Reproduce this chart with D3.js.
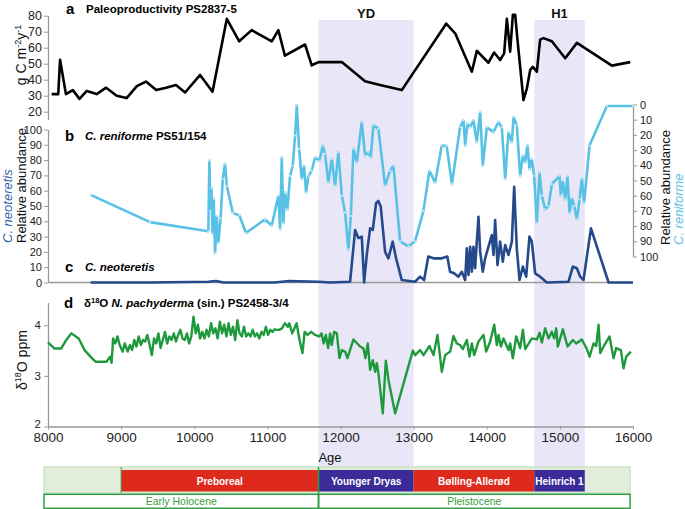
<!DOCTYPE html>
<html><head><meta charset="utf-8">
<script src="https://cdn.jsdelivr.net/npm/d3@7"></script>
<style>body{margin:0;background:#fff;} svg{font-family:"Liberation Sans",Arial,sans-serif;}</style>
</head><body><svg id="c" width="685" height="509"></svg>
<script>
// ---------- DATA ----------
const xTicks = [8000,9000,10000,11000,12000,13000,14000,15000,16000];
const bandLabels = ["YD","H1"];
const bandStart = [11700,14650];
const bandEnd = [13000,15340];

const paleoAge = [8050,8140,8165,8245,8340,8430,8530,8665,8795,8940,9075,9215,9340,9480,9615,9750,9875,10080,10250,10445,10615,10785,11060,11150,11240,11515,11607,11700,11860,12018,12336,12540,12838,13445,13568,13796,13865,14023,14101,14183,14238,14275,14320,14357,14389,14420,14502,14549,14594,14630,14685,14730,14776,14890,15073,15233,15711,15962];
const paleoVal = [31,31,52.5,31,33.5,28,33,31,35,30,28.5,36,38.8,33.5,35,36.7,32,43,32.5,78,64,71,64,71,55,62,49,51,51,51,39,36.7,33.5,75,69,45,58,50.6,57,52.3,56.5,78,57.5,80.5,80.5,65,27.3,34.6,46,48,45,65,66,64,53.4,63,48.8,51];
const paleoTicks = [20,30,40,50,60,70,80];

const renAge = [8584,9395,10193,10207,10220,10235,10250,10265,10285,10308,10330,10360,10390,10421,10445,10527,10617,10708,10968,11060,11150,11174,11197,11219,11242,11274,11310,11347,11379,11402,11434,11470,11502,11529,11561,11607,11652,11711,11758,11789,11834,11881,11926,11971,12018,12063,12108,12141,12177,12223,12291,12336,12382,12414,12450,12518,12610,12678,12724,12815,12929,13020,13134,13216,13294,13385,13453,13523,13636,13682,13705,13736,13773,13818,13864,13910,13946,14001,14092,14160,14206,14252,14297,14343,14366,14411,14457,14494,14525,14557,14584,14616,14648,14685,14721,14753,14799,14845,14890,14995,15013,15040,15073,15104,15132,15164,15196,15233,15269,15301,15332,15405,15643,16000];
const renVal = [59.5,77.4,83.4,37,70,55,85,62,97.8,73.5,91,75,49,39,53.5,71.3,73,84.5,75.6,79.6,60.2,82,34.8,78,58,69,47,40.3,20.4,0.5,29.2,49,40.3,58,47,43.6,34.8,37,27,32.5,51.4,35.8,53.5,31.4,60,71,95.5,73.5,29.2,38,11.5,33.6,31.4,34.8,13.7,16,53.5,43.6,40.3,90,93.3,90,70,43.6,51.4,27,27.4,52.4,14.8,10.4,27,12.6,15,10.4,24.8,4.9,40.3,15,18.2,11.5,15,49,18.2,24.8,8.2,13.7,47,33.6,38,27,42.5,35.8,47,78,44.7,60,69,66.8,52.4,47,60,50.2,62.4,47,71.3,61.3,66.8,75.6,62.4,48.7,64.6,27,1,1];

const neoAge = [8584,9395,10193,10300,10400,11100,11300,11700,11860,12131,12200,12245,12291,12323,12359,12405,12441,12487,12518,12550,12610,12655,12714,12760,12838,13020,13088,13143,13201,13270,13385,13461,13498,13553,13612,13659,13705,13727,13750,13773,13796,13818,13841,13864,13887,13910,13946,13978,14024,14069,14092,14115,14147,14183,14219,14252,14297,14343,14375,14411,14448,14494,14539,14584,14616,14662,14730,14822,15118,15178,15233,15278,15323,15425,15666,16000];
const neoVal = [0,0,0.5,1,0,0,1,0.5,0,0.5,34.3,29,30,0,18,35.4,34.3,51.8,53.3,49.6,20,15.8,26.7,15.8,1.6,0.5,3.8,1.6,17,15.8,15.8,17,7,6,3.8,7,1.6,22.3,5,23.4,7,23.4,9.3,26.7,43,20,7,15.8,23.4,31,18,40.8,11.4,26.7,13.6,24.5,18,26.7,62.6,22.3,1.6,10.4,3.8,30,26.7,6,3.8,0,0.5,10.4,9.3,3.8,1.6,35.4,0,0];
const abundTicks = [0,10,20,30,40,50,60,70,80,90,100];

const d18Age = [8000,8090,8180,8250,8320,8420,8500,8600,8650,8800,8850,8870,8890,8920,8950,8980,9020,9050,9090,9120,9150,9180,9210,9240,9270,9300,9330,9360,9390,9420,9450,9480,9510,9540,9570,9600,9630,9660,9690,9720,9750,9780,9810,9840,9870,9900,9930,9960,9990,10020,10050,10080,10110,10140,10170,10200,10230,10260,10290,10320,10350,10380,10410,10440,10470,10500,10530,10560,10590,10620,10650,10680,10710,10740,10770,10800,10830,10860,10890,10920,10950,10980,11010,11040,11070,11100,11130,11160,11200,11240,11280,11300,11340,11400,11440,11480,11510,11550,11600,11650,11710,11740,11770,11800,11830,11858,11880,11913,11950,11986,12018,12063,12095,12177,12268,12314,12341,12373,12405,12442,12474,12496,12519,12578,12620,12656,12747,12989,13021,13089,13135,13217,13272,13326,13386,13431,13500,13545,13591,13636,13673,13728,13764,13796,13828,13887,13956,13992,14047,14102,14138,14161,14193,14229,14298,14320,14357,14403,14457,14494,14526,14617,14685,14722,14754,14799,14845,14890,14922,14950,14972,15041,15105,15178,15223,15301,15369,15406,15460,15497,15529,15552,15597,15679,15734,15770,15834,15871,15907,15971];
const d18Val = [3.66,3.54,3.54,3.71,3.84,3.74,3.51,3.35,3.28,3.28,3.38,3.26,3.74,3.64,3.78,3.61,3.48,3.64,3.48,3.61,3.51,3.71,3.58,3.78,3.61,3.71,3.68,3.81,3.61,3.41,3.74,3.64,3.84,3.55,3.71,3.87,3.64,3.78,3.71,3.84,3.68,3.81,3.91,3.74,3.71,3.84,3.64,3.78,4.17,3.84,4.01,3.74,3.87,3.74,3.91,3.78,4.04,3.84,3.94,3.74,4.07,3.84,4.01,3.78,4.04,3.81,3.97,3.71,4.1,3.84,3.78,3.97,3.78,3.84,3.78,3.91,3.78,3.84,3.74,3.87,3.81,3.97,3.81,3.91,3.87,3.92,3.91,3.91,3.94,4.04,3.97,4.04,3.84,4.04,3.71,3.45,3.87,3.81,3.87,3.81,3.78,3.84,3.64,3.81,3.55,3.84,3.61,3.87,3.84,3.35,3.51,3.48,3.35,3.72,3.58,3.54,3.35,3.64,3.12,3.31,3.08,3.25,3.05,2.26,3.30,2.92,2.26,3.50,3.41,3.51,3.41,3.59,3.41,3.81,3.08,3.41,3.48,3.79,3.64,3.61,3.53,3.71,3.38,3.64,3.41,3.68,3.81,3.48,3.68,4.01,3.61,3.81,3.58,3.74,3.51,3.64,3.35,3.78,3.55,3.91,3.53,3.74,3.72,3.85,3.66,3.94,3.74,3.87,3.74,3.94,3.58,3.92,3.58,3.71,3.64,3.72,3.53,3.38,3.64,3.59,4.01,3.45,3.58,3.78,3.35,3.55,3.51,3.15,3.38,3.48];
const d18Ticks = [2,3,4];

const periodNames = ["Preboreal","Younger Dryas","Bølling-Allerød","Heinrich 1"];
const periodStart = [9000,11700,13000,14650];
const periodEnd = [11700,13000,14650,15340];
const epochNames = ["Early Holocene","Pleistocene"];
const epochStart = [7945,11700];
const epochEnd = [11700,15960];

// ---------- STYLE ----------
const RED="#dd2a1c", PURPLE="#3a2b99", BAND="#e9e7f7", LBLUE="#5ac1e6", DBLUE="#254a8c", GREEN="#1e9a3c", AXIS="#999";
const periodColors=[RED,PURPLE,RED,PURPLE];

const svg = d3.select("#c");
const x = d3.scaleLinear().domain([8000,16000]).range([48,633]);
const yA = d3.scaleLinear().domain([15,80]).range([119.7,15.7]);
const yL = d3.scaleLinear().domain([0,100]).range([282.5,129.5]);
const yR = d3.scaleLinear().domain([0,100]).range([104.5,256.5]);
const yD = d3.scaleLinear().domain([2,4.45]).range([426.5,302.5]);

// bands
svg.selectAll("rect.band").data(bandLabels).enter().append("rect")
  .attr("x",(d,i)=>x(bandStart[i])).attr("width",(d,i)=>x(bandEnd[i])-x(bandStart[i]))
  .attr("y",20).attr("height",447).attr("fill",BAND);
svg.selectAll("text.band").data(bandLabels).enter().append("text")
  .attr("x",(d,i)=>(x(bandStart[i])+x(bandEnd[i]))/2).attr("y",18)
  .attr("text-anchor","middle").attr("font-size",13).attr("font-weight","bold").attr("fill","#111").text(d=>d);

function styleAxis(g,fs){
  g.selectAll(".domain").attr("stroke",AXIS).attr("stroke-width",1.3);
  g.selectAll(".tick line").attr("stroke",AXIS);
  g.selectAll(".tick text").attr("fill","#222").attr("font-size",fs).attr("font-family","Liberation Sans, Arial, sans-serif");
}
// axes
styleAxis(svg.append("g").attr("transform","translate(48,0)")
  .call(d3.axisLeft(yA).tickValues(paleoTicks).tickSize(4).tickSizeOuter(0).tickPadding(2)),12.5);
styleAxis(svg.append("g").attr("transform","translate(48,0)")
  .call(d3.axisLeft(yL).tickValues(abundTicks).tickSize(4).tickSizeOuter(0).tickPadding(2)),11);
styleAxis(svg.append("g").attr("transform","translate(633,0)")
  .call(d3.axisRight(yR).tickValues(abundTicks).tickSize(4).tickSizeOuter(0).tickPadding(3)),11);
svg.append("line").attr("x1",48).attr("x2",633).attr("y1",yL(0)).attr("y2",yL(0)).attr("stroke",AXIS).attr("stroke-width",1.3);
const gDy = svg.append("g").attr("transform","translate(48,0)")
  .call(d3.axisLeft(yD).tickValues(d18Ticks).tickFormat(d3.format("d")).tickSize(4).tickSizeOuter(0).tickPadding(3));
styleAxis(gDy,11.5);
gDy.selectAll(".tick text").filter(d=>d===2).attr("dy","0.1em");
styleAxis(svg.append("g").attr("transform",`translate(0,${yD(2)})`)
  .call(d3.axisBottom(x).tickValues(xTicks).tickFormat(d3.format("d")).tickSize(3).tickSizeOuter(0).tickPadding(3)),13.5);

// lines
const zip=(a,b)=>a.map((v,i)=>[v,b[i]]);
const paleo=zip(paleoAge,paleoVal), ren=zip(renAge,renVal), neo=zip(neoAge,neoVal), d18=zip(d18Age,d18Val);
svg.append("path").datum(neo).attr("fill","none").attr("stroke",DBLUE).attr("stroke-width",2.6).attr("stroke-linejoin","round")
  .attr("d",d3.line().x(d=>x(d[0])).y(d=>yL(d[1])));
svg.append("path").datum(ren).attr("fill","none").attr("stroke",LBLUE).attr("stroke-width",2.6).attr("stroke-linejoin","round")
  .attr("d",d3.line().x(d=>x(d[0])).y(d=>yR(d[1])));
svg.selectAll("circle.ren").data(ren).enter().append("circle")
  .attr("cx",d=>x(d[0])).attr("cy",d=>yR(d[1])).attr("r",1.1).attr("fill","#c4ebf8");
svg.append("path").datum(paleo).attr("fill","none").attr("stroke","#000").attr("stroke-width",2.6).attr("stroke-linejoin","round")
  .attr("d",d3.line().x(d=>x(d[0])).y(d=>yA(d[1])));
svg.append("path").datum(d18).attr("fill","none").attr("stroke",GREEN).attr("stroke-width",2.4).attr("stroke-linejoin","round")
  .attr("d",d3.line().x(d=>x(d[0])).y(d=>yD(d[1])));

// panel titles
function title(letter,x0,y0,parts){
  svg.append("text").attr("x",x0).attr("y",y0).attr("font-size",15).attr("font-weight","bold").text(letter);
  const t=svg.append("text").attr("x",x0+20).attr("y",y0-1).attr("font-size",11.5).attr("font-weight","bold");
  parts.forEach(p=>{const s=t.append("tspan").text(p.t); if(p.i)s.attr("font-style","italic"); if(p.sup)s.attr("font-size",7.5).attr("dy",-4); if(p.down)s.attr("dy",4);});
}
title("a",66,14,[{t:"Paleoproductivity PS2837-5"}]);
title("b",65,141,[{t:"C. reniforme",i:1},{t:" PS51/154"}]);
title("c",65,272,[{t:"C. neoteretis",i:1}]);
title("d",64,308,[{t:"δ"},{t:"18",sup:1},{t:"O ",down:1},{t:"N. pachyderma",i:1},{t:" (sin.) PS2458-3/4"}]);

// axis titles
const ta=svg.append("text").attr("transform","translate(26,55) rotate(-90)").attr("text-anchor","middle").attr("font-size",14).attr("fill","#111");
ta.append("tspan").text("g C m");ta.append("tspan").text("-2").attr("font-size",9).attr("dy",-5);
ta.append("tspan").text("y").attr("dy",5);ta.append("tspan").text("-1").attr("font-size",9).attr("dy",-5);
svg.append("text").attr("transform","translate(12,243) rotate(-90)").attr("font-size",13).attr("font-style","italic").attr("fill","#2f5ea8").text("C. neoteretis");
svg.append("text").attr("transform","translate(26,243) rotate(-90)").attr("font-size",13).attr("fill","#111").text("Relative abundance");
svg.append("text").attr("transform","translate(670,245) rotate(-90)").attr("font-size",13).attr("fill","#111").text("Relative abundance");
svg.append("text").attr("transform","translate(683,245) rotate(-90)").attr("font-size",13).attr("font-style","italic").attr("fill",LBLUE).text("C. reniforme");
const td=svg.append("text").attr("transform","translate(27,390) rotate(-90)").attr("font-size",14).attr("fill","#111");
td.append("tspan").text("δ");td.append("tspan").text("18").attr("font-size",9).attr("dy",-6);td.append("tspan").text("O ppm").attr("dy",6);
svg.append("text").attr("x",330).attr("y",462).attr("text-anchor","middle").attr("font-size",13).attr("fill","#111").text("Age");

// timeline
svg.append("rect").attr("x",x(epochStart[0])).attr("y",467).attr("width",x(epochEnd[1])-x(epochStart[0])).attr("height",26)
  .attr("fill","#e2eedb").attr("stroke","#cfe2c9").attr("stroke-width",1.5);
svg.selectAll("rect.per").data(periodNames).enter().append("rect")
  .attr("x",(d,i)=>x(periodStart[i])).attr("width",(d,i)=>x(periodEnd[i])-x(periodStart[i]))
  .attr("y",470).attr("height",21.5).attr("fill",(d,i)=>periodColors[i]);
svg.selectAll("text.per").data(periodNames).enter().append("text")
  .attr("x",(d,i)=>(x(periodStart[i])+x(periodEnd[i]))/2).attr("y",485).attr("text-anchor","middle")
  .attr("font-size",10).attr("font-weight","bold").attr("fill","#fff").text(d=>d);
svg.append("line").attr("x1",x(periodStart[0])).attr("x2",x(periodStart[0])).attr("y1",467).attr("y2",493).attr("stroke","#3aa045").attr("stroke-width",1);
svg.selectAll("rect.ep").data(epochNames).enter().append("rect")
  .attr("x",(d,i)=>x(epochStart[i])).attr("width",(d,i)=>x(epochEnd[i])-x(epochStart[i]))
  .attr("y",494.3).attr("height",14).attr("fill","#fff").attr("stroke","#2ea043").attr("stroke-width",1.5);
svg.append("line").attr("x1",x(epochStart[1])).attr("x2",x(epochStart[1])).attr("y1",467).attr("y2",508).attr("stroke","#2ea043").attr("stroke-width",1.5);
svg.selectAll("text.ep").data(epochNames).enter().append("text")
  .attr("x",(d,i)=>(x(epochStart[i])+x(epochEnd[i]))/2).attr("y",505).attr("text-anchor","middle")
  .attr("font-size",10.5).attr("fill","#3a9d3a").text(d=>d);
</script></body></html>
